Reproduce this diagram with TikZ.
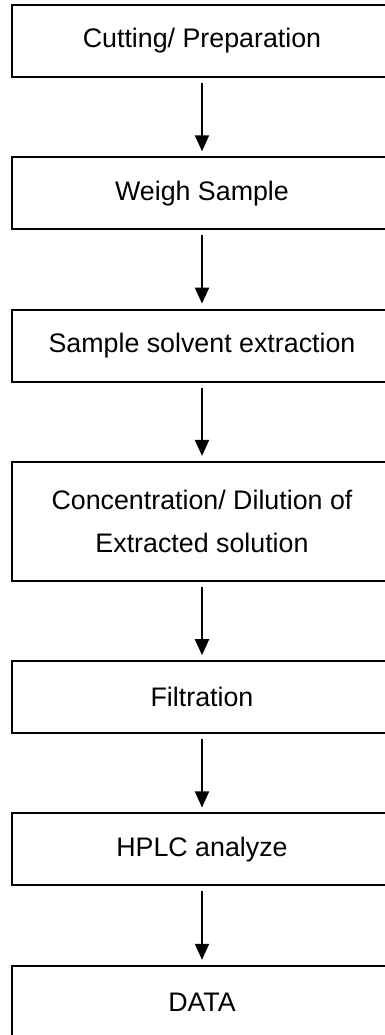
\documentclass[tikz,border=0pt]{standalone}
\usepackage{fontspec}
\setmainfont{Liberation Sans}
\usetikzlibrary{positioning,arrows.meta}

\begin{document}
\begin{tikzpicture}[x=0.5pt,y=0.5pt,node distance=39.15pt,
    stepbox/.style={draw, line width=1pt, minimum width=190pt, minimum height=36pt,
      align=center, font=\fontsize{13.4}{21.5}\selectfont},
    flow/.style={-{Triangle[length=8pt,width=7pt]}, line width=1pt,
      shorten <=2.5pt, shorten >=2.5pt}]
    \useasboundingbox (0,0) rectangle (385,1035);
    \clip (0,0) rectangle (385,1035);

    \node[stepbox] (cut) at (202,994) {Cutting/ Preparation};
    \node[stepbox, below=of cut] (weigh) {Weigh Sample};
    \node[stepbox, below=of weigh] (extr) {Sample solvent extraction};
    \node[stepbox, below=of extr, minimum height=59.5pt] (conc)
    {Concentration/ Dilution of\\Extracted solution};
    \node[stepbox, below=of conc] (filt) {Filtration};
    \node[stepbox, below=of filt] (hplc) {HPLC analyze};
    \node[stepbox, below=of hplc] (data) {DATA};

    \draw[flow] (cut) -- (weigh);
    \draw[flow] (weigh) -- (extr);
    \draw[flow] (extr) -- (conc);
    \draw[flow] (conc) -- (filt);
    \draw[flow] (filt) -- (hplc);
    \draw[flow] (hplc) -- (data);
\end{tikzpicture}
\end{document}
